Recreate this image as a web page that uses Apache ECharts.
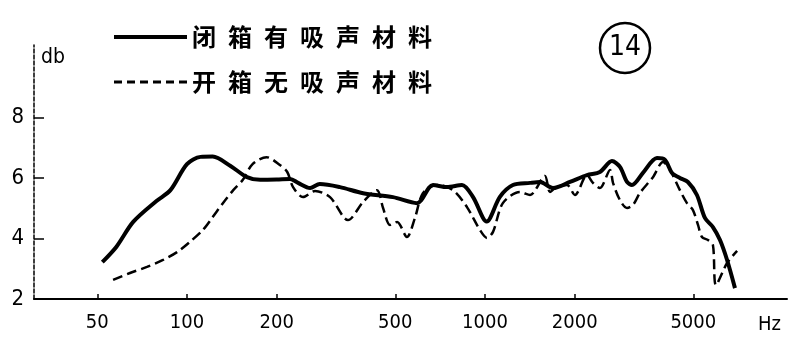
<!DOCTYPE html>
<html>
<head>
<meta charset="utf-8">
<script src="https://cdn.jsdelivr.net/npm/echarts@6/dist/echarts.min.js"></script>
<style>
html,body{margin:0;padding:0;background:#fff;}
#chart{width:795px;height:351px;}
</style>
</head>
<body>
<div id="chart"></div>
<script>
// ---- data ----
const seriesNames = ['闭箱有吸声材料', '开箱无吸声材料'];
const xTickHz = [50, 100, 200, 500, 1000, 2000, 5000];
const yTicks = [2, 4, 6, 8];

const closedHz = [52, 58, 66, 79, 88, 100, 111, 122, 140, 159, 176, 200, 222, 236, 259, 279, 326, 390, 491, 591, 669, 745, 837, 912, 1013, 1122, 1241, 1416, 1530, 1691, 1928, 2199, 2430, 2667, 2837, 2996, 3113, 3388, 3776, 4018, 4242, 4508, 4796, 5142, 5470, 5818, 6146, 6491, 6900];
const closedDb = [3.22, 3.73, 4.55, 5.24, 5.60, 6.46, 6.70, 6.71, 6.40, 6.03, 5.94, 5.95, 5.97, 5.84, 5.67, 5.80, 5.70, 5.50, 5.37, 5.17, 5.77, 5.70, 5.77, 5.37, 4.56, 5.38, 5.77, 5.84, 5.87, 5.67, 5.87, 6.10, 6.20, 6.56, 6.37, 5.87, 5.77, 6.17, 6.66, 6.60, 6.17, 6.00, 5.87, 5.44, 4.68, 4.38, 3.95, 3.29, 2.36];

const openHz = [56.5, 64.4, 73.4, 83.1, 92.6, 102, 113, 122, 132, 143, 154, 166, 185, 205, 217, 227, 245, 269, 302, 347, 390, 434, 455, 480, 507, 547, 582, 619, 690, 781, 870, 962, 1015, 1064, 1148, 1309, 1416, 1589, 1652, 1757, 1884, 2004, 2199, 2303, 2430, 2628, 2689, 2837, 2996, 3138, 3312, 3661, 3957, 4176, 4508, 4760, 4986, 5185, 5346, 5600, 5818, 5957, 6491, 7014];
const openDb = [2.63, 2.86, 3.06, 3.29, 3.55, 3.88, 4.28, 4.71, 5.17, 5.60, 5.94, 6.46, 6.69, 6.43, 6.20, 5.70, 5.37, 5.57, 5.37, 4.61, 5.21, 5.60, 5.01, 4.45, 4.55, 4.05, 4.68, 5.50, 5.77, 5.60, 5.04, 4.28, 4.02, 4.22, 5.17, 5.54, 5.44, 6.07, 5.54, 5.74, 5.77, 5.44, 6.10, 5.84, 5.67, 6.27, 5.84, 5.27, 5.01, 5.11, 5.51, 6.03, 6.53, 6.27, 5.60, 5.17, 4.94, 4.45, 4.05, 3.95, 3.79, 2.46, 3.19, 3.59];

const pair = (xs, ys) => xs.map((x, i) => [x, ys[i]]);
const numFont = "'Liberation Sans Narrow', 'DejaVu Sans Condensed', 'Liberation Sans', sans-serif";

const chart = echarts.init(document.getElementById('chart'), null, {renderer: 'canvas'});
chart.setOption({
  animation: false,
  backgroundColor: '#fff',
  grid: {left: 34, right: 8, top: 45, bottom: 52},
  legend: {
    orient: 'vertical',
    left: 107,
    top: 19,
    itemWidth: 73,
    itemHeight: 14,
    itemGap: 19,
    itemStyle: {opacity: 0},
    data: [
      {name: seriesNames[0], lineStyle: {width: 4, color: '#000'}},
      {name: seriesNames[1], lineStyle: {width: 3, color: '#000', type: [8, 5]}}
    ],
    formatter: n => n.split('').join('\u2002'),
    textStyle: {
      fontFamily: "'Noto Sans CJK SC', sans-serif",
      fontSize: 24,
      fontWeight: 'bold',
      lineHeight: 26,
      color: '#000',
      padding: [0, 0, 0, 0]
    }
  },
  xAxis: {
    type: 'log',
    logBase: 10,
    min: 30.67,
    max: 10313,
    axisLine: {lineStyle: {color: '#000', width: 2}},
    axisTick: {inside: true, length: 5, customValues: xTickHz, lineStyle: {color: '#000', width: 1.5}},
    axisLabel: {customValues: xTickHz, formatter: v => String(Math.round(v)), margin: 14, color: '#000', fontSize: 20, fontFamily: numFont},
    splitLine: {show: false},
    minorTick: {show: false}
  },
  yAxis: {
    type: 'value',
    min: 2,
    max: 10.4,
    axisLine: {show: true, lineStyle: {color: '#000', width: 1.5, type: [4, 2]}},
    axisTick: {show: true, inside: true, length: 10, customValues: [4, 6, 8], lineStyle: {color: '#000', width: 1.5}},
    axisLabel: {customValues: yTicks, margin: 10, color: '#000', fontSize: 22, fontFamily: numFont},
    splitLine: {show: false}
  },
  graphic: [
    {type: 'text', left: 41, top: 47, style: {text: 'db', fontSize: 21, fontFamily: numFont, fill: '#000'}},
    {type: 'text', left: 758, top: 315, style: {text: 'Hz', fontSize: 20, fontFamily: numFont, fill: '#000'}},
    {type: 'circle', shape: {cx: 625, cy: 48, r: 25}, style: {fill: 'none', stroke: '#000', lineWidth: 2.5}},
    {type: 'text', x: 625, y: 48, style: {text: '14', fontSize: 28, fontFamily: numFont, fill: '#000', align: 'center', verticalAlign: 'middle'}}
  ],
  series: [
    {
      name: seriesNames[0],
      type: 'line',
      data: pair(closedHz, closedDb),
      symbol: 'none',
      smooth: 0.3,
      lineStyle: {color: '#000', width: 4},
      itemStyle: {color: '#000'}
    },
    {
      name: seriesNames[1],
      type: 'line',
      data: pair(openHz, openDb),
      symbol: 'none',
      smooth: 0.3,
      lineStyle: {color: '#000', width: 2.5, type: [10, 5]},
      itemStyle: {color: '#000'}
    }
  ]
});
</script>
</body>
</html>
